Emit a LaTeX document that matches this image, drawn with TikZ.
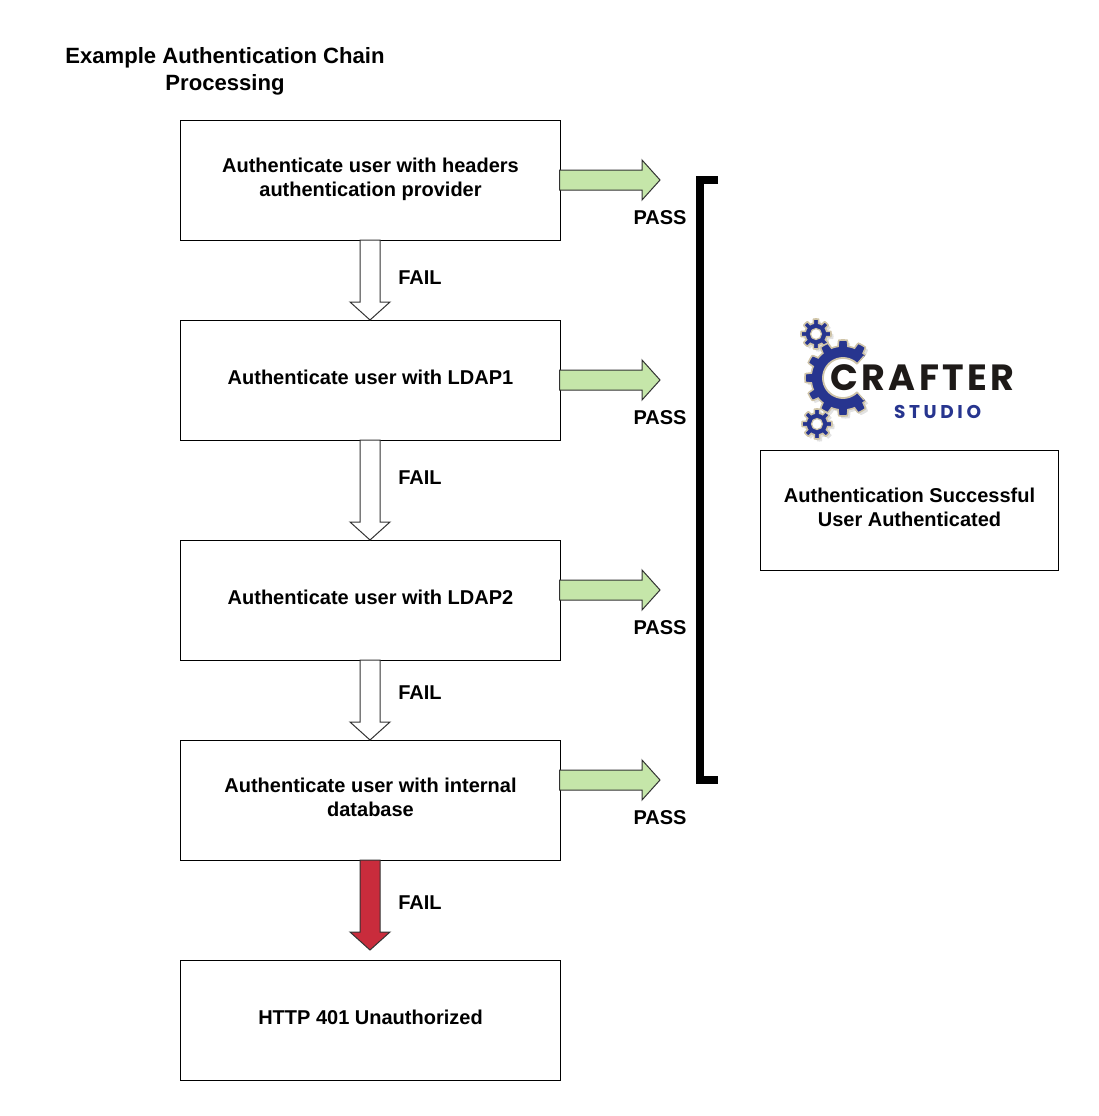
\documentclass[tikz,border=0pt]{standalone}
\usepackage{fontspec}
\setmainfont{Liberation Sans}
\newfontfamily\logofont[LetterSpace=9.5]{Poppins}
\newfontfamily\logofontb[LetterSpace=19.5]{Poppins}
\usetikzlibrary{calc}
\definecolor{passfill}{HTML}{C5E6A9}
\definecolor{failred}{HTML}{C92C3C}
\definecolor{logoblue}{HTML}{27358F}
\definecolor{logobeige}{HTML}{CFC4A8}
\definecolor{logoshadow}{HTML}{E2E2E2}
\definecolor{logoblack}{HTML}{1E1A18}
\definecolor{arrowline}{HTML}{333333}
\newcommand\boxlines[1]{\raisebox{0pt}[\height][\dimexpr\depth+2pt\relax]{\begin{tabular}{@{}c@{}}#1\end{tabular}}}
% centre x, centre y, root radius, outer radius, teeth
\newcommand\gearpath[5]{plot[samples=361,domain=0:360,variable=\t]
  ({#1+(#3+(#4-#3)*max(0,min(1,2*cos(#5*\t)+0.6)))*cos(\t)},
   {#2+(#3+(#4-#3)*max(0,min(1,2*cos(#5*\t)+0.6)))*sin(\t)}) -- cycle}
\newcommand\smallgear[2]{%
  \fill[logoshadow] \gearpath{#1+2.5}{#2+2.5}{11}{15}{8};
  \draw[logobeige,line width=1.6pt,fill=logoblue] \gearpath{#1}{#2}{11}{15}{8};
  \draw[logobeige,line width=1.2pt,fill=white] (#1,#2) circle[radius=5.5];
}
% block arrows between two named points
\newcommand\downarrowblock[3]{%
  \draw[#3,line join=miter]
    ($(#1)+(-10.5,-1)$) -- ($(#2)+(-10.5,-18)$) -- ($(#2)+(-20.5,-18)$) -- ($(#2)+(-0.5,0)$)
    -- ($(#2)+(19.5,-18)$) -- ($(#2)+(9.5,-18)$) -- ($(#1)+(9.5,-1)$) -- cycle;
}
\newcommand\rightarrowblock[2]{%
  \draw[passarrow,line join=miter] ($(#1)+(-1.5,-10)$) -- ($(#2)+(-18,-10)$) -- ($(#2)+(-18,-20)$) -- (#2)
    -- ($(#2)+(-18,20)$) -- ($(#2)+(-18,10)$) -- ($(#1)+(-1.5,10)$) -- cycle;
}
\tikzset{
  flowbox/.style={draw=black,line width=1pt,fill=white,minimum width=380pt,minimum height=120pt,
    inner sep=0pt,font=\fontsize{20}{24}\selectfont\bfseries},
  resultbox/.style={flowbox,minimum width=298pt},
  caption/.style={inner sep=0pt,font=\fontsize{20}{24}\selectfont\bfseries},
  titletext/.style={inner sep=0pt,align=center,font=\fontsize{22.1}{27}\selectfont\bfseries},
  failarrow/.style={draw=arrowline,line width=1pt,fill=white},
  lastfail/.style={draw=arrowline,line width=1pt,fill=failred},
  passarrow/.style={draw=arrowline,line width=1pt,fill=passfill},
  bracketline/.style={line width=8pt,black,line join=miter,line cap=butt},
}
\begin{document}
\begin{tikzpicture}[x=1pt,y=-1pt]
\useasboundingbox (0,0) rectangle (1098,1116);

\node[titletext] (title) at (225,71.5) {Example Authentication Chain\\Processing};

\node[flowbox] (b1) at (370.5,180.5) {\boxlines{Authenticate user with headers\\authentication provider}};
\node[flowbox] (b2) at (370.5,380.5) {\boxlines{Authenticate user with LDAP1}};
\node[flowbox] (b3) at (370.5,600.5) {\boxlines{Authenticate user with LDAP2}};
\node[flowbox] (b4) at (370.5,800.5) {\boxlines{Authenticate user with internal\\database}};
\node[flowbox] (b5) at (370.5,1020.5) {\boxlines{HTTP 401 Unauthorized}};
\node[resultbox] (ok) at (909.5,510.5) {\boxlines{Authentication Successful\\User Authenticated}};

\coordinate (e0) at (370.5,950);
\downarrowblock{b1.south}{b2.north}{failarrow}
\downarrowblock{b2.south}{b3.north}{failarrow}
\downarrowblock{b3.south}{b4.north}{failarrow}
\downarrowblock{b4.south}{e0}{lastfail}

\coordinate (p1) at (660,180);
\coordinate (p2) at (660,380);
\coordinate (p3) at (660,590);
\coordinate (p4) at (660,780);
\coordinate (s1) at (b1.east |- p1);
\coordinate (s2) at (b2.east |- p2);
\coordinate (s3) at (b3.east |- p3);
\coordinate (s4) at (b4.east |- p4);
\rightarrowblock{s1}{p1}
\rightarrowblock{s2}{p2}
\rightarrowblock{s3}{p3}
\rightarrowblock{s4}{p4}

\node[caption] (f1) at (420,278) {FAIL};
\node[caption] (f2) at (420,478) {FAIL};
\node[caption] (f3) at (420,693) {FAIL};
\node[caption] (f4) at (420,903) {FAIL};
\node[caption] (q1) at (660,218) {PASS};
\node[caption] (q2) at (660,418) {PASS};
\node[caption] (q3) at (660,628) {PASS};
\node[caption] (q4) at (660,818) {PASS};

\coordinate (bt) at (718,180);
\coordinate (bb) at (718,780);
\draw[bracketline] (bt) -- (700,180) -- (700,780) -- (bb);

% logo
\smallgear{816}{334}
\smallgear{817}{424}
\fill[logoshadow] \gearpath{845.5}{380.5}{32}{38}{12};
\draw[logobeige,line width=1.6pt,fill=logoblue] \gearpath{843}{378}{32}{38}{12};
\fill[white] (843,378) circle[radius=20];
\fill[white] (843,378) -- (903,318) -- (903,438) -- cycle;
\draw[logobeige,line width=1.8pt] plot[samples=60,domain=45:315,variable=\t] ({843+20*cos(\t)},{378+20*sin(\t)});
\draw[logobeige,line width=1.4pt] (857,364) -- (864,356);
\draw[logobeige,line width=1.4pt] (857,392) -- (864,400);
\node[inner sep=0pt,anchor=west,text=logoblack,font=\logofont\fontsize{36.5}{38}\selectfont\bfseries] (logo) at (830,378) {CRAFTER};
\node[inner sep=0pt,anchor=west,text=logoblue,font=\logofontb\fontsize{18.5}{18.5}\selectfont\bfseries] (studio) at (894,411.5) {STUDIO};
\end{tikzpicture}
\end{document}
